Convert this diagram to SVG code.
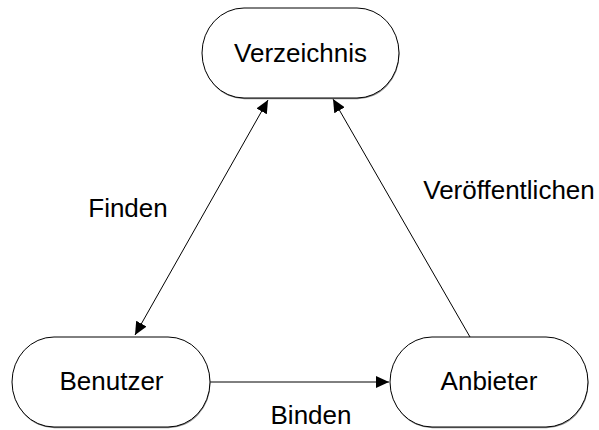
<svg xmlns="http://www.w3.org/2000/svg" width="599" height="430" viewBox="0 0 599 430">
  <style>
    .node { fill: #ffffff; stroke: #000000; stroke-width: 1; }
    .shadow { fill: #8c8c8c; stroke: none; }
    .label { font-family: "Liberation Sans", Arial, sans-serif; font-size: 26px; fill: #000000; text-anchor: middle; }
    .edge { stroke: #000000; stroke-width: 1; fill: none; }
  </style>
  <defs>
    <marker id="arrow" markerUnits="userSpaceOnUse" markerWidth="14" markerHeight="12" refX="13" refY="6" orient="auto-start-reverse">
      <path d="M0,0 L13,6 L0,12 z" fill="#000000"/>
    </marker>
  </defs>
  <rect width="599" height="430" fill="#ffffff"/>
  <g id="connectors">
    <line class="edge" x1="135" y1="335" x2="268" y2="100" marker-start="url(#arrow)" marker-end="url(#arrow)"/>
    <line class="edge" x1="470" y1="337" x2="333" y2="99" marker-end="url(#arrow)"/>
    <line class="edge" x1="210" y1="382" x2="389" y2="382" marker-end="url(#arrow)"/>
    <text class="label" x="128" y="217">Finden</text>
    <text class="label" x="509" y="199">Veröffentlichen</text>
    <text class="label" x="311" y="424">Binden</text>
  </g>
  <g id="verzeichnis">
    <rect class="shadow" x="202.5" y="9.2" width="197" height="90" rx="42" ry="45"/>
    <rect class="node" x="202" y="8" width="197" height="90" rx="42" ry="45"/>
    <text class="label" x="300.5" y="62">Verzeichnis</text>
  </g>
  <g id="benutzer">
    <rect class="shadow" x="12.5" y="338.2" width="198" height="90" rx="42" ry="45"/>
    <rect class="node" x="12" y="337" width="198" height="90" rx="42" ry="45"/>
    <text class="label" x="111.5" y="390">Benutzer</text>
  </g>
  <g id="anbieter">
    <rect class="shadow" x="390.5" y="338.2" width="198" height="90" rx="42" ry="45"/>
    <rect class="node" x="390" y="337" width="198" height="90" rx="42" ry="45"/>
    <text class="label" x="489" y="390">Anbieter</text>
  </g>
</svg>
